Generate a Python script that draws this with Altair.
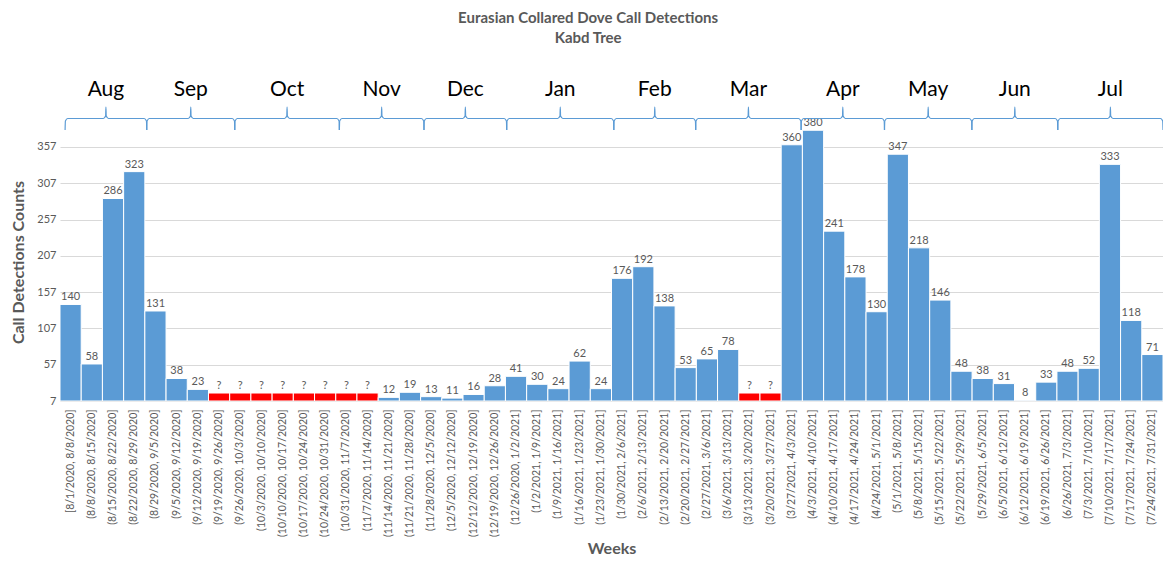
import altair as alt
import pandas as pd

# ---------------- data ----------------
weeks = [
    "[8/1/2020, 8/8/2020]", "(8/8/2020, 8/15/2020]", "(8/15/2020, 8/22/2020]", "(8/22/2020, 8/29/2020]",
    "(8/29/2020, 9/5/2020]", "(9/5/2020, 9/12/2020]", "(9/12/2020, 9/19/2020]", "(9/19/2020, 9/26/2020]",
    "(9/26/2020, 10/3/2020]", "(10/3/2020, 10/10/2020]", "(10/10/2020, 10/17/2020]", "(10/17/2020, 10/24/2020]",
    "(10/24/2020, 10/31/2020]", "(10/31/2020, 11/7/2020]", "(11/7/2020, 11/14/2020]", "(11/14/2020, 11/21/2020]",
    "(11/21/2020, 11/28/2020]", "(11/28/2020, 12/5/2020]", "(12/5/2020, 12/12/2020]", "(12/12/2020, 12/19/2020]",
    "(12/19/2020, 12/26/2020]", "(12/26/2020, 1/2/2021]", "(1/2/2021, 1/9/2021]", "(1/9/2021, 1/16/2021]",
    "(1/16/2021, 1/23/2021]", "(1/23/2021, 1/30/2021]", "(1/30/2021, 2/6/2021]", "(2/6/2021, 2/13/2021]",
    "(2/13/2021, 2/20/2021]", "(2/20/2021, 2/27/2021]", "(2/27/2021, 3/6/2021]", "(3/6/2021, 3/13/2021]",
    "(3/13/2021, 3/20/2021]", "(3/20/2021, 3/27/2021]", "(3/27/2021, 4/3/2021]", "(4/3/2021, 4/10/2021]",
    "(4/10/2021, 4/17/2021]", "(4/17/2021, 4/24/2021]", "(4/24/2021, 5/1/2021]", "(5/1/2021, 5/8/2021]",
    "(5/8/2021, 5/15/2021]", "(5/15/2021, 5/22/2021]", "(5/22/2021, 5/29/2021]", "(5/29/2021, 6/5/2021]",
    "(6/5/2021, 6/12/2021]", "(6/12/2021, 6/19/2021]", "(6/19/2021, 6/26/2021]", "(6/26/2021, 7/3/2021]",
    "(7/3/2021, 7/10/2021]", "(7/10/2021, 7/17/2021]", "(7/17/2021, 7/24/2021]", "(7/24/2021, 7/31/2021]",
]

counts = [
    140, 58, 286, 323, 131, 38, 23, None,
    None, None, None, None, None, None, None, 12,
    19, 13, 11, 16, 28, 41, 30, 24,
    62, 24, 176, 192, 138, 53, 65, 78,
    None, None, 360, 380, 241, 178, 130, 347,
    218, 146, 48, 38, 31, 8, 33, 48,
    52, 333, 118, 71,
]

missing_height = 18          # height of the red "no data" bars
missing_label = "?"

months = ["Aug", "Sep", "Oct", "Nov", "Dec", "Jan", "Feb", "Mar", "Apr", "May", "Jun", "Jul"]
month_start = [0.24, 4.09, 8.24, 13.17, 17.16, 21.06, 26.11, 29.97, 34.94, 38.87, 42.99, 47.04]
month_end = [4.09, 8.24, 13.17, 17.16, 21.06, 26.11, 29.97, 34.94, 38.87, 42.99, 47.04, 52.0]

y_ticks = [7, 57, 107, 157, 207, 257, 307, 357]
y_min, y_max = 7, 390

BLUE = "#5b9bd5"
RED = "#ff0000"
GRAY = "#595959"
FONT = "Lato"

# ---------------- tables ----------------
bars = pd.DataFrame({
    "week": weeks,
    "height": [missing_height if c is None else c for c in counts],
    "label": [missing_label if c is None else str(c) for c in counts],
    "color": [RED if c is None else BLUE for c in counts],
})

# brace outline (pixel offsets from plot top): hooks down at the ends, spike up in the middle
DOWN, LINE, UP = 7, -4.5, -16
rows = []
for m, a, b in zip(months, month_start, month_end):
    c = (a + b) / 2
    pts = [(a, DOWN), (a + 0.015, LINE + 2.5), (a + 0.12, LINE),
           (c - 0.12, LINE), (c - 0.015, LINE - 2.5), (c, UP),
           (c + 0.015, LINE - 2.5), (c + 0.12, LINE),
           (b - 0.12, LINE), (b - 0.015, LINE + 2.5), (b, DOWN)]
    for k, (u, p) in enumerate(pts):
        rows.append({"month": m, "order": k, "u": u, "py": p})
brace = pd.DataFrame(rows)
month_df = pd.DataFrame({"month": months,
                         "center": [(a + b) / 2 for a, b in zip(month_start, month_end)]})

# ---------------- charts ----------------
xband = alt.X("week:N", sort=weeks,
              scale=alt.Scale(paddingInner=0, paddingOuter=0),
              axis=alt.Axis(title="Weeks", labelAngle=-90, labelFontSize=10.5,
                            labelColor=GRAY, labelFont=FONT, labelPadding=8,
                            labelLimit=300, ticks=False, domain=True,
                            domainColor="#d9d9d9", grid=False,
                            titleFont=FONT, titleFontSize=16, titleFontWeight="bold",
                            titleColor=GRAY, titleY=139, titleBaseline="top"))
yscale = alt.Scale(domain=[y_min, y_max], nice=False, zero=False)

bar_layer = alt.Chart(bars).mark_bar(stroke="white", strokeWidth=1).encode(
    x=xband,
    y=alt.Y("height:Q", scale=yscale,
            axis=alt.Axis(values=y_ticks, tickCount=len(y_ticks) + 2,
                          title="Call Detections Counts",
                          grid=True, gridColor="#d9d9d9", domain=False, ticks=False,
                          labelColor=GRAY, labelFontSize=11, labelFont=FONT,
                          labelPadding=4, titlePadding=10, labelOverlap=False,
                          titleFont=FONT, titleFontSize=16, titleFontWeight="bold",
                          titleColor=GRAY)),
    y2=alt.datum(y_min),
    color=alt.Color("color:N", scale=None),
)
label_layer = alt.Chart(bars).mark_text(baseline="bottom", dy=-2, fontSize=11,
                                        font=FONT, color=GRAY).encode(
    x=alt.X("week:N", sort=weeks),
    y=alt.Y("height:Q", scale=yscale),
    text="label:N",
)
data_part = alt.layer(bar_layer, label_layer)

uscale = alt.Scale(domain=[0, len(weeks)], nice=False, zero=False)
brace_layer = alt.Chart(brace).mark_line(interpolate="monotone", color=BLUE,
                                         strokeWidth=1.2, clip=False).encode(
    x=alt.X("u:Q", scale=uscale, axis=None),
    y=alt.Y("py:Q", scale=None, axis=None),
    detail="month:N",
    order="order:Q",
)
month_layer = alt.Chart(month_df).mark_text(fontSize=21, font=FONT, color="black",
                                            baseline="middle").encode(
    x=alt.X("center:Q", scale=uscale, axis=None),
    y=alt.value(-33),
    text="month:N",
)
brace_part = alt.layer(brace_layer, month_layer)

chart = alt.layer(data_part, brace_part).resolve_scale(
    x="independent", y="independent"
).properties(
    width=1103, height=278,
    title=alt.Title("Eurasian Collared Dove Call Detections", subtitle="Kabd Tree",
                    anchor="middle", frame="bounds", font=FONT, fontSize=15,
                    fontWeight="bold", color=GRAY, subtitleFont=FONT,
                    subtitleFontSize=15, subtitleFontWeight="bold",
                    subtitleColor=GRAY, subtitlePadding=5, offset=33),
    autosize=alt.AutoSizeParams(type="none"),
    padding={"left": 52, "top": 115, "right": 0, "bottom": 155},
).configure_view(stroke=None)

chart.save("out.html", embed_options={"renderer": "svg", "actions": False})
